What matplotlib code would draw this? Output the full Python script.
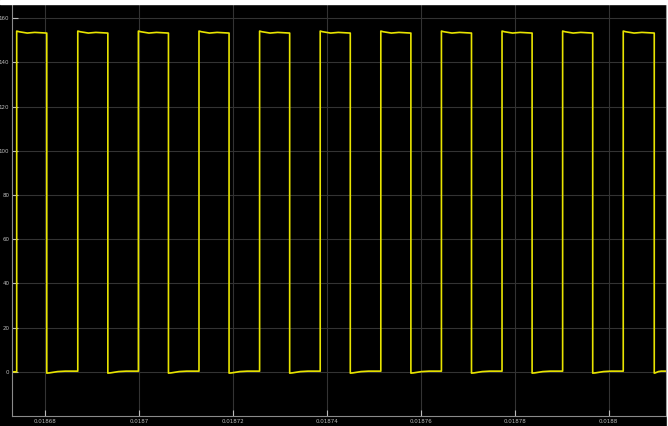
import numpy as np
import matplotlib
matplotlib.use("Agg")
import matplotlib.pyplot as plt
from matplotlib.patches import Rectangle
from matplotlib.ticker import FuncFormatter

# --- data (time in s, value in V) ---
t_start = 0.0186730
t_end = 0.0188122
rise_times = [0.0186740, 0.0186870, 0.0186999, 0.0187128, 0.0187257, 0.0187386,
              0.0187515, 0.0187644, 0.0187773, 0.0187902, 0.0188031]
fall_times = [0.0186804, 0.0186934, 0.0187063, 0.0187192, 0.0187321, 0.0187450,
              0.0187579, 0.0187708, 0.0187837, 0.0187966, 0.0188097]
# level shape along each high / low stretch (fraction of stretch, value)
profile_pos = [0.0, 0.08, 0.35, 0.6, 1.0]
high_levels = [154.2, 153.9, 153.3, 153.6, 153.3]
low_levels = [-0.6, -0.5, 0.1, 0.3, 0.3]
first_low = 0.0

x_ticks = [0.01868, 0.0187, 0.01872, 0.01874, 0.01876, 0.01878, 0.0188]
y_ticks = [0, 20, 40, 60, 80, 100, 120, 140, 160]

# --- build the trace from the edges ---
t = [t_start]
v = [first_low]
for i, (r, f) in enumerate(zip(rise_times, fall_times)):
    t.append(r); v.append(first_low if i == 0 else v[-1])
    for p, lvl in zip(profile_pos, high_levels):
        t.append(r + p * (f - r)); v.append(lvl)
    nxt = rise_times[i + 1] if i + 1 < len(rise_times) else t_end
    for p, lvl in zip(profile_pos, low_levels):
        t.append(f + p * (nxt - f)); v.append(lvl)

# --- figure ---
fig = plt.figure(figsize=(6.68, 4.26), dpi=100, facecolor="black")
ax = fig.add_axes([12 / 668, 10 / 426, 654 / 668, 411 / 426], facecolor="black")

ax.plot(t, v, color="#e8e400", linewidth=1.2)

ax.set_xlim(t_start, t_end)
ax.set_ylim(-20, 166)
ax.set_xticks(x_ticks)
ax.set_yticks(y_ticks)
ax.xaxis.set_major_formatter(FuncFormatter(lambda val, pos: f"{val:g}"))

ax.grid(True, color="#333333", linewidth=0.8)
ax.tick_params(colors="#bbbbbb", labelsize=4, direction="in", length=4,
               width=0.8, pad=2)
for side in ["left", "bottom", "right"]:
    ax.spines[side].set_color("#8a8a8a")
    ax.spines[side].set_linewidth(0.8)
ax.spines["top"].set_visible(False)

# white margin strips of the screenshot
fig.add_artist(Rectangle((0, 422 / 426), 1, 4 / 426, transform=fig.transFigure,
                         color="white", zorder=10))
fig.add_artist(Rectangle((666.5 / 668, 0), 1.5 / 668, 1, transform=fig.transFigure,
                         color="white", zorder=10))

fig.savefig("out.png", dpi=100, facecolor="black")
